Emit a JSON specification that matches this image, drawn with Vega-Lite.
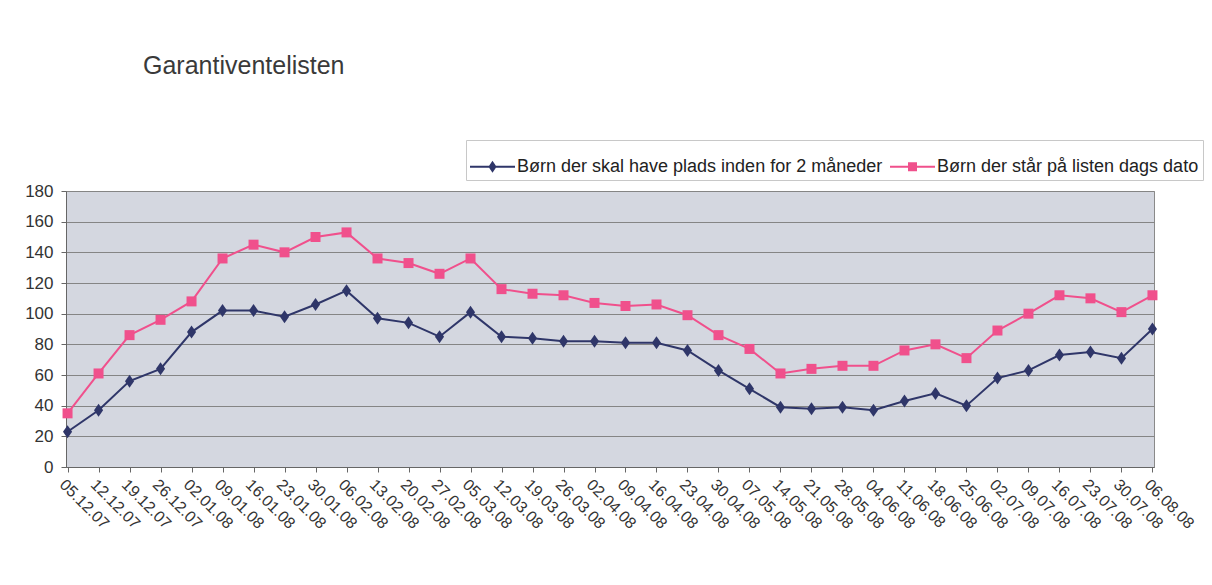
{
  "$schema": "https://vega.github.io/schema/vega-lite/v6.json",
  "width": 1088,
  "height": 276,
  "autosize": {"type": "none"},
  "padding": {"left": 66, "top": 191, "right": 58, "bottom": 118},
  "background": "white",
  "title": {
    "text": "Garantiventelisten",
    "anchor": "start",
    "frame": "group",
    "dx": 77,
    "offset": 61,
    "font": "Liberation Sans",
    "fontSize": 25,
    "fontWeight": "normal",
    "color": "#3a3a3a"
  },
  "config": {
    "view": {"stroke": "#8a8a8a", "fill": "#d4d7e0"}
  },
  "datasets": {
    "rows": [
      {"dato": "05.12.07", "serie": "Børn der skal have plads inden for 2 måneder", "antal": 23},
      {"dato": "12.12.07", "serie": "Børn der skal have plads inden for 2 måneder", "antal": 37},
      {"dato": "19.12.07", "serie": "Børn der skal have plads inden for 2 måneder", "antal": 56},
      {"dato": "26.12.07", "serie": "Børn der skal have plads inden for 2 måneder", "antal": 64},
      {"dato": "02.01.08", "serie": "Børn der skal have plads inden for 2 måneder", "antal": 88},
      {"dato": "09.01.08", "serie": "Børn der skal have plads inden for 2 måneder", "antal": 102},
      {"dato": "16.01.08", "serie": "Børn der skal have plads inden for 2 måneder", "antal": 102},
      {"dato": "23.01.08", "serie": "Børn der skal have plads inden for 2 måneder", "antal": 98},
      {"dato": "30.01.08", "serie": "Børn der skal have plads inden for 2 måneder", "antal": 106},
      {"dato": "06.02.08", "serie": "Børn der skal have plads inden for 2 måneder", "antal": 115},
      {"dato": "13.02.08", "serie": "Børn der skal have plads inden for 2 måneder", "antal": 97},
      {"dato": "20.02.08", "serie": "Børn der skal have plads inden for 2 måneder", "antal": 94},
      {"dato": "27.02.08", "serie": "Børn der skal have plads inden for 2 måneder", "antal": 85},
      {"dato": "05.03.08", "serie": "Børn der skal have plads inden for 2 måneder", "antal": 101},
      {"dato": "12.03.08", "serie": "Børn der skal have plads inden for 2 måneder", "antal": 85},
      {"dato": "19.03.08", "serie": "Børn der skal have plads inden for 2 måneder", "antal": 84},
      {"dato": "26.03.08", "serie": "Børn der skal have plads inden for 2 måneder", "antal": 82},
      {"dato": "02.04.08", "serie": "Børn der skal have plads inden for 2 måneder", "antal": 82},
      {"dato": "09.04.08", "serie": "Børn der skal have plads inden for 2 måneder", "antal": 81},
      {"dato": "16.04.08", "serie": "Børn der skal have plads inden for 2 måneder", "antal": 81},
      {"dato": "23.04.08", "serie": "Børn der skal have plads inden for 2 måneder", "antal": 76},
      {"dato": "30.04.08", "serie": "Børn der skal have plads inden for 2 måneder", "antal": 63},
      {"dato": "07.05.08", "serie": "Børn der skal have plads inden for 2 måneder", "antal": 51},
      {"dato": "14.05.08", "serie": "Børn der skal have plads inden for 2 måneder", "antal": 39},
      {"dato": "21.05.08", "serie": "Børn der skal have plads inden for 2 måneder", "antal": 38},
      {"dato": "28.05.08", "serie": "Børn der skal have plads inden for 2 måneder", "antal": 39},
      {"dato": "04.06.08", "serie": "Børn der skal have plads inden for 2 måneder", "antal": 37},
      {"dato": "11.06.08", "serie": "Børn der skal have plads inden for 2 måneder", "antal": 43},
      {"dato": "18.06.08", "serie": "Børn der skal have plads inden for 2 måneder", "antal": 48},
      {"dato": "25.06.08", "serie": "Børn der skal have plads inden for 2 måneder", "antal": 40},
      {"dato": "02.07.08", "serie": "Børn der skal have plads inden for 2 måneder", "antal": 58},
      {"dato": "09.07.08", "serie": "Børn der skal have plads inden for 2 måneder", "antal": 63},
      {"dato": "16.07.08", "serie": "Børn der skal have plads inden for 2 måneder", "antal": 73},
      {"dato": "23.07.08", "serie": "Børn der skal have plads inden for 2 måneder", "antal": 75},
      {"dato": "30.07.08", "serie": "Børn der skal have plads inden for 2 måneder", "antal": 71},
      {"dato": "06.08.08", "serie": "Børn der skal have plads inden for 2 måneder", "antal": 90},
      {"dato": "05.12.07", "serie": "Børn der står på listen dags dato", "antal": 35},
      {"dato": "12.12.07", "serie": "Børn der står på listen dags dato", "antal": 61},
      {"dato": "19.12.07", "serie": "Børn der står på listen dags dato", "antal": 86},
      {"dato": "26.12.07", "serie": "Børn der står på listen dags dato", "antal": 96},
      {"dato": "02.01.08", "serie": "Børn der står på listen dags dato", "antal": 108},
      {"dato": "09.01.08", "serie": "Børn der står på listen dags dato", "antal": 136},
      {"dato": "16.01.08", "serie": "Børn der står på listen dags dato", "antal": 145},
      {"dato": "23.01.08", "serie": "Børn der står på listen dags dato", "antal": 140},
      {"dato": "30.01.08", "serie": "Børn der står på listen dags dato", "antal": 150},
      {"dato": "06.02.08", "serie": "Børn der står på listen dags dato", "antal": 153},
      {"dato": "13.02.08", "serie": "Børn der står på listen dags dato", "antal": 136},
      {"dato": "20.02.08", "serie": "Børn der står på listen dags dato", "antal": 133},
      {"dato": "27.02.08", "serie": "Børn der står på listen dags dato", "antal": 126},
      {"dato": "05.03.08", "serie": "Børn der står på listen dags dato", "antal": 136},
      {"dato": "12.03.08", "serie": "Børn der står på listen dags dato", "antal": 116},
      {"dato": "19.03.08", "serie": "Børn der står på listen dags dato", "antal": 113},
      {"dato": "26.03.08", "serie": "Børn der står på listen dags dato", "antal": 112},
      {"dato": "02.04.08", "serie": "Børn der står på listen dags dato", "antal": 107},
      {"dato": "09.04.08", "serie": "Børn der står på listen dags dato", "antal": 105},
      {"dato": "16.04.08", "serie": "Børn der står på listen dags dato", "antal": 106},
      {"dato": "23.04.08", "serie": "Børn der står på listen dags dato", "antal": 99},
      {"dato": "30.04.08", "serie": "Børn der står på listen dags dato", "antal": 86},
      {"dato": "07.05.08", "serie": "Børn der står på listen dags dato", "antal": 77},
      {"dato": "14.05.08", "serie": "Børn der står på listen dags dato", "antal": 61},
      {"dato": "21.05.08", "serie": "Børn der står på listen dags dato", "antal": 64},
      {"dato": "28.05.08", "serie": "Børn der står på listen dags dato", "antal": 66},
      {"dato": "04.06.08", "serie": "Børn der står på listen dags dato", "antal": 66},
      {"dato": "11.06.08", "serie": "Børn der står på listen dags dato", "antal": 76},
      {"dato": "18.06.08", "serie": "Børn der står på listen dags dato", "antal": 80},
      {"dato": "25.06.08", "serie": "Børn der står på listen dags dato", "antal": 71},
      {"dato": "02.07.08", "serie": "Børn der står på listen dags dato", "antal": 89},
      {"dato": "09.07.08", "serie": "Børn der står på listen dags dato", "antal": 100},
      {"dato": "16.07.08", "serie": "Børn der står på listen dags dato", "antal": 112},
      {"dato": "23.07.08", "serie": "Børn der står på listen dags dato", "antal": 110},
      {"dato": "30.07.08", "serie": "Børn der står på listen dags dato", "antal": 101},
      {"dato": "06.08.08", "serie": "Børn der står på listen dags dato", "antal": 112}
    ]
  },
  "data": {"name": "rows"},
  "encoding": {
    "x": {
      "field": "dato",
      "type": "ordinal",
      "sort": null,
      "scale": {"type": "point", "padding": 0.05},
      "axis": {
        "title": null,
        "labelAngle": 45,
        "labelAlign": "left",
        "labelBaseline": "top",
        "labelPadding": 4,
        "labelFont": "Liberation Sans",
        "labelFontSize": 16,
        "labelColor": "#333333",
        "tickSize": 5,
        "tickColor": "#666666",
        "domainColor": "#666666",
        "grid": false
      }
    },
    "y": {
      "field": "antal",
      "type": "quantitative",
      "scale": {"domain": [0, 180], "nice": false},
      "axis": {
        "title": null,
        "values": [0, 20, 40, 60, 80, 100, 120, 140, 160, 180],
        "labelFont": "Liberation Sans",
        "labelFontSize": 17,
        "labelColor": "#333333",
        "labelPadding": 8,
        "tickSize": 5,
        "tickColor": "#666666",
        "domainColor": "#666666",
        "grid": true,
        "gridColor": "#858585",
        "gridOpacity": 1,
        "gridWidth": 1
      }
    },
    "color": {
      "field": "serie",
      "type": "nominal",
      "scale": {
        "domain": ["Børn der skal have plads inden for 2 måneder", "Børn der står på listen dags dato"],
        "range": ["#2f3669", "#f0508c"]
      },
      "legend": {
        "title": null,
        "orient": "none",
        "direction": "horizontal",
        "legendX": 400,
        "legendY": -51,
        "padding": 4,
        "fillColor": "white",
        "strokeColor": "#c8c8c8",
        "symbolSize": 2025,
        "symbolOpacity": 1,
        "symbolStrokeWidth": 0,
        "labelFont": "Liberation Sans",
        "labelFontSize": 18,
        "labelColor": "#222222",
        "labelOffset": 2,
        "columnPadding": 7,
        "labelLimit": 0
      }
    }
  },
  "layer": [
    {
      "mark": {"type": "line", "strokeWidth": 2}
    },
    {
      "transform": [{"filter": "datum.serie === 'Børn der skal have plads inden for 2 måneder'"}],
      "mark": {"type": "point", "filled": true, "opacity": 1, "shape": "M0,-1L0.7,0L0,1L-0.7,0Z", "size": 169}
    },
    {
      "transform": [{"filter": "datum.serie === 'Børn der står på listen dags dato'"}],
      "mark": {"type": "point", "filled": true, "opacity": 1, "shape": "square", "size": 100}
    },
    {
      "transform": [{"filter": "datum.antal < 0"}],
      "mark": {"type": "point", "filled": true, "opacity": 1},
      "encoding": {
        "shape": {
          "field": "serie",
          "type": "nominal",
          "scale": {
            "domain": ["Børn der skal have plads inden for 2 måneder", "Børn der står på listen dags dato"],
            "range": [
              "M-1,-0.045H1V0.045H-1ZM0,-0.27L0.18,0L0,0.27L-0.18,0Z",
              "M-1,-0.045H1V0.045H-1ZM-0.2,-0.2H0.2V0.2H-0.2Z"
            ]
          },
          "legend": {
            "title": null,
            "orient": "none",
            "direction": "horizontal",
            "legendX": 400,
            "legendY": -51,
            "padding": 4,
            "fillColor": "white",
            "strokeColor": "#c8c8c8",
            "symbolSize": 2025,
            "symbolOpacity": 1,
            "symbolStrokeWidth": 0,
            "labelFont": "Liberation Sans",
            "labelFontSize": 18,
            "labelColor": "#222222",
            "labelOffset": 2,
            "columnPadding": 7,
            "labelLimit": 0
          }
        }
      }
    }
  ]
}
